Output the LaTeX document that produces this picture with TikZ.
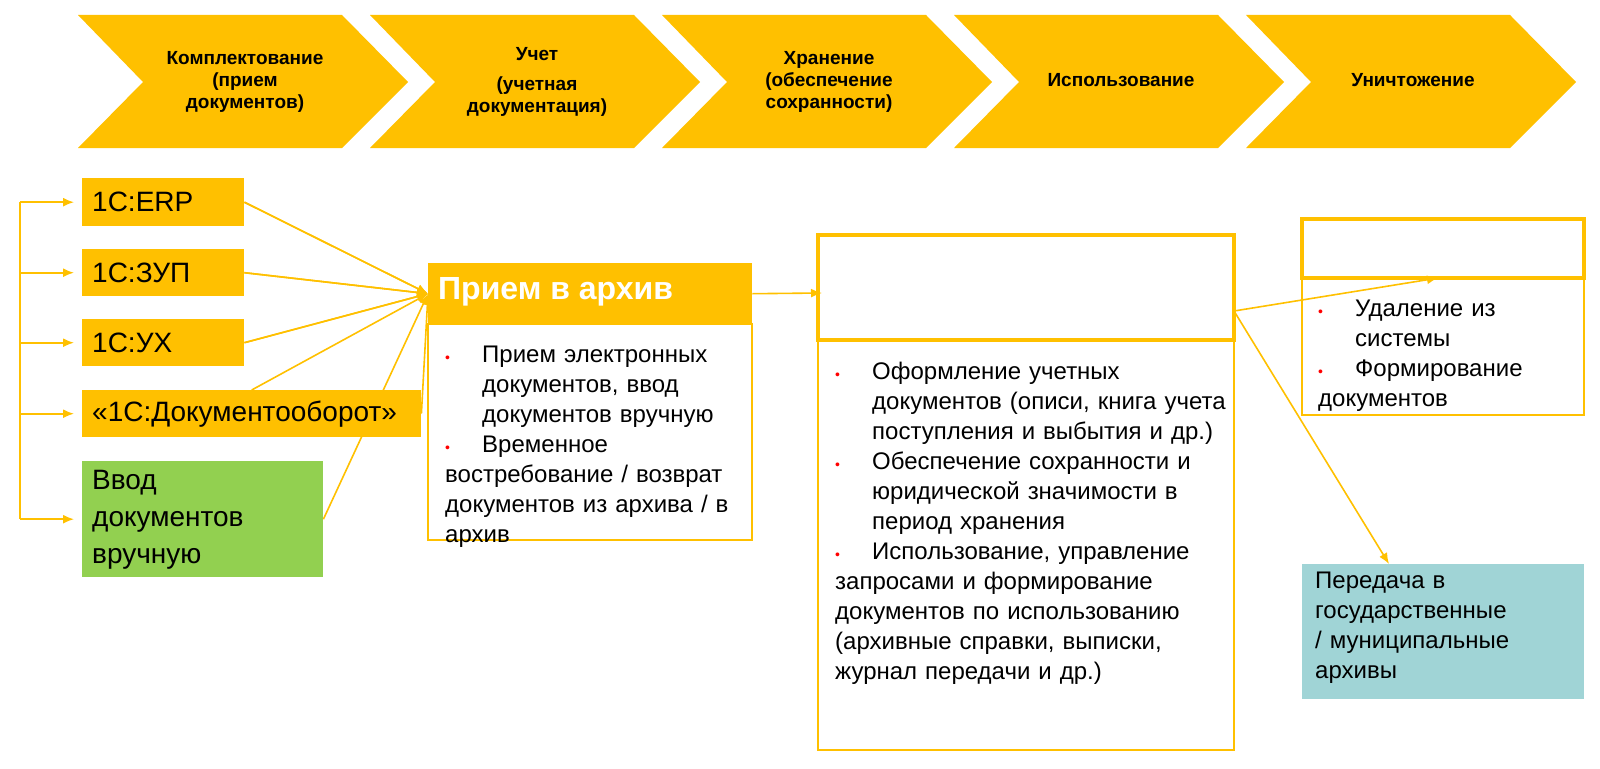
\documentclass[tikz,border=0pt]{standalone}
\usepackage{fontspec}
\setmainfont{Liberation Sans}
\usetikzlibrary{arrows.meta}
\definecolor{ygold}{HTML}{FFC000}
\definecolor{ggreen}{HTML}{92D050}
\definecolor{teal1}{HTML}{A0D4D6}
\newcommand\bul{\par\hangindent=37pt\hangafter=1\noindent\makebox[37pt][l]{\textcolor{red}{\fontsize{14}{14}\selectfont\textbullet}}}
\tikzset{
 chev/.style={fill=ygold},
 chevtext/.style={font=\bfseries\fontsize{19}{22}\selectfont, align=center},
 sysbox/.style={fill=ygold, inner sep=0pt, anchor=north west, font=\fontsize{28}{34}\selectfont},
 conn/.style={draw=ygold, line width=1.6pt},
 arr/.style={conn, -{Latex[length=11pt,width=9pt]}},
 frame/.style={draw=ygold, line width=1.5pt},
 thick frame/.style={draw=ygold, line width=3.5pt},
 body/.style={font=\fontsize{24}{30}\selectfont, align=left, inner sep=0pt, anchor=north west}
}
\begin{document}
\begin{tikzpicture}[x=1pt,y=-1pt]
\useasboundingbox (0,0) rectangle (1600,768);
% chevrons
\foreach \x [count=\i] in {78,370,662,954,1246}{
 \fill[chev] (\x,15) -- (\x+264,15) -- (\x+330,82) -- (\x+264,148) -- (\x,148) -- (\x+65,82) -- cycle;
}
\node[chevtext] (c1) at (245,82) {Комплектование\\(прием\\документов)};
\node[chevtext] (c2) at (537,82) {Учет\\[8pt](учетная\\документация)};
\node[chevtext] (c3) at (829,82) {Хранение\\(обеспечение\\сохранности)};
\node[chevtext] (c4) at (1121,80) {Использование};
\node[chevtext] (c5) at (1413,80) {Уничтожение};

% connectors (behind boxes)
\coordinate (bl) at (20,0);
\node[sysbox, minimum width=162pt, minimum height=48pt] (erp) at (82,178) {};
\node[sysbox, minimum width=162pt, minimum height=47pt] (zup) at (82,249) {};
\node[sysbox, minimum width=162pt, minimum height=47pt] (ux) at (82,319) {};
\node[sysbox, minimum width=339pt, minimum height=47pt] (doc) at (82,390) {};
\node[sysbox, fill=ggreen, minimum width=241pt, minimum height=116pt] (gr) at (82,461) {};
\node[fill=ygold, inner sep=0pt, anchor=north west, minimum width=324pt, minimum height=61pt] (ph) at (428,263) {};

\draw[conn] (bl |- erp.west) -- (bl |- gr.west);
\foreach \n in {erp,zup,ux,doc,gr}{
 \draw[arr] (bl |- \n.west) -- ([xshift=-8pt]\n.west);
}
\foreach \n in {erp,zup,ux,doc}{
 \draw[arr] (\n.east |- \n.west) ++(0,0) -- (ph.west);
}
\draw[arr] (erp.east) -- (ph.west);
\draw[arr] (zup.east) -- (ph.west);
\draw[arr] (ux.east) -- (ph.west);
\draw[arr] (doc.north) -- (ph.west);
\draw[arr] (gr.east) -- (ph.west);

% redraw boxes on top with text
\node[sysbox, minimum width=162pt, minimum height=48pt, anchor=center] at (erp) {};
\node[sysbox, anchor=west] at ([xshift=10pt]erp.west) {1C:ERP};
\node[sysbox, minimum width=162pt, minimum height=47pt, anchor=center] at (zup) {};
\node[sysbox, anchor=west] at ([xshift=10pt]zup.west) {1С:ЗУП};
\node[sysbox, minimum width=162pt, minimum height=47pt, anchor=center] at (ux) {};
\node[sysbox, anchor=west] at ([xshift=10pt]ux.west) {1С:УХ};
\node[sysbox, minimum width=339pt, minimum height=47pt, anchor=center] at (doc) {};
\node[sysbox, anchor=west] at ([xshift=10pt]doc.west) {«1С:Документооборот»};
\node[sysbox, fill=ggreen, minimum width=241pt, minimum height=116pt, anchor=center] at (gr) {};
\node[sysbox, fill=none, align=left, font=\fontsize{28}{37}\selectfont] at (92,470) {Ввод\\документов\\вручную};

% priem
\draw[frame] (428,324) rectangle (752,540);
\fill[ygold] (428,263) rectangle (752,324);
\node[anchor=west, text=white, font=\bfseries\fontsize{32}{38}\selectfont, inner sep=0pt] (pt) at (438,292) {Прием в архив};
\node[body, text width=300pt] (pb) at (445,332) {\bul Прием электронных документов, ввод документов вручную\bul Временное востребование / возврат документов из архива / в архив};

% storage
\coordinate (send) at (822,293);
\draw[arr] (ph.east) -- (send);
\draw[frame] (818,340) rectangle (1234,750);
\draw[thick frame] (818,235) rectangle (1234,340);
\node[body, text width=396pt] (sb) at (835,349) {\bul Оформление учетных документов (описи, книга учета поступления и выбытия и др.)\bul Обеспечение сохранности и юридической значимости в период хранения\bul Использование, управление запросами и формирование документов по использованию (архивные справки, выписки, журнал передачи и др.)};

% right
\draw[frame] (1302,278) rectangle (1584,415);
\draw[thick frame] (1302,219) rectangle (1584,278);
\node[body, text width=260pt] (rb) at (1318,286) {\bul Удаление из системы\bul Формирование документов};
\fill[teal1] (1302,564) rectangle (1584,699);
\node[body, text width=260pt] (tb) at (1315,572) {Передача в государственные / муниципальные архивы};
\coordinate (src) at (1234,311);
\coordinate (te) at (1389,564);
\coordinate (re) at (1438,278);
\draw[arr] (src) -- (re);
\draw[arr] (src) -- (te);
\end{tikzpicture}
\end{document}
